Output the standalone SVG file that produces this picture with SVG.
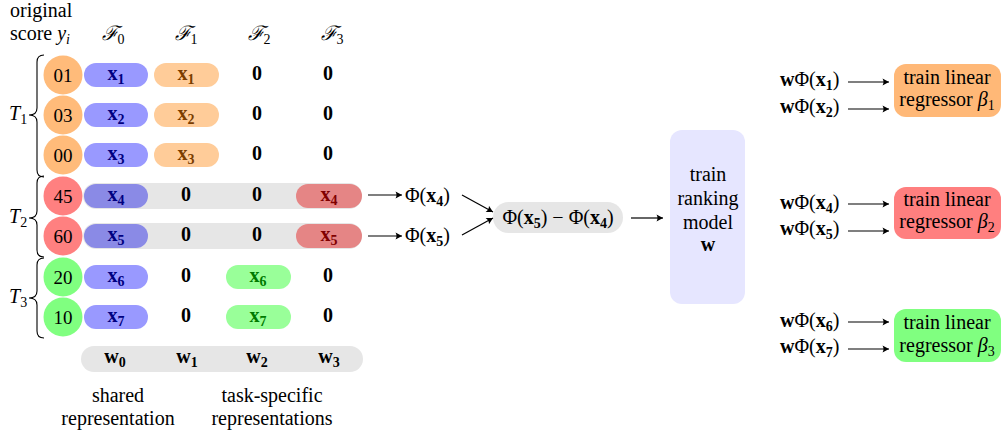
<svg xmlns="http://www.w3.org/2000/svg" width="1002" height="434" viewBox="0 0 1002 434">
<style>
text{font-family:'Liberation Serif','DejaVu Serif',serif;font-size:20px;fill:#000}
.c{text-anchor:middle}
.b{font-weight:bold}
.i{font-style:italic}
.d{font-size:19px}
.sub{font-size:14px}
.bl{fill:#000080}.or{fill:#7a3d00}.gr{fill:#007a00}.rd{fill:#800000}
.conn{stroke:#000;stroke-width:1.2;fill:none}
.brace{stroke:#000;stroke-width:1.1;fill:none}
</style>
<defs>
<marker id="arr" viewBox="-7 -4 8 8" refX="0" refY="0" markerWidth="8" markerHeight="8" orient="auto" markerUnits="userSpaceOnUse">
<path d="M-6.5,-3.5 L0,0 L-6.5,3.5 Q-4.5,0 -6.5,-3.5 Z" fill="#000"/>
</marker>
</defs>

<g id="headers">
<text x="10" y="17">original</text>
<text x="10" y="40">score <tspan class="i">y</tspan><tspan class="sub i" dy="4">i</tspan></text>
<text class="c" x="113" y="40"><tspan class="i">ℱ</tspan><tspan class="sub" dy="4">0</tspan></text>
<text class="c" x="186" y="40"><tspan class="i">ℱ</tspan><tspan class="sub" dy="4">1</tspan></text>
<text class="c" x="259" y="40"><tspan class="i">ℱ</tspan><tspan class="sub" dy="4">2</tspan></text>
<text class="c" x="332" y="40"><tspan class="i">ℱ</tspan><tspan class="sub" dy="4">3</tspan></text>
</g>

<g id="tasks">
<path class="brace" d="M44,55 Q37,55 37,62 L37,108 Q37,115 29,115 Q37,115 37,122 L37,170 Q37,177 44,177"/>
<text x="9" y="120"><tspan class="i">T</tspan><tspan class="sub" dy="4">1</tspan></text>
<path class="brace" d="M44,176 Q37,176 37,183 L37,211 Q37,218 29,218 Q37,218 37,225 L37,250 Q37,257 44,257"/>
<text x="9" y="223"><tspan class="i">T</tspan><tspan class="sub" dy="4">2</tspan></text>
<path class="brace" d="M44,258 Q37,258 37,265 L37,291 Q37,298 29,298 Q37,298 37,305 L37,331 Q37,338 44,338"/>
<text x="9" y="303"><tspan class="i">T</tspan><tspan class="sub" dy="4">3</tspan></text>
</g>

<g id="bands">
<rect x="83" y="183" width="279" height="26" rx="13" fill="#e6e6e6"/>
<rect x="83" y="223" width="279" height="26" rx="13" fill="#e6e6e6"/>
</g>

<g id="scores">
<circle cx="63" cy="75" r="19.5" fill="#ffbb7a"/><text class="c d" x="63" y="81.5">01</text>
<circle cx="63" cy="115" r="19.5" fill="#ffbb7a"/><text class="c d" x="63" y="121.5">03</text>
<circle cx="63" cy="155" r="19.5" fill="#ffbb7a"/><text class="c d" x="63" y="161.5">00</text>
<circle cx="63" cy="196" r="19.5" fill="#ff8080"/><text class="c d" x="63" y="202.5">45</text>
<circle cx="63" cy="236" r="19.5" fill="#ff8080"/><text class="c d" x="63" y="242.5">60</text>
<circle cx="63" cy="277" r="19.5" fill="#80ff80"/><text class="c d" x="63" y="283.5">20</text>
<circle cx="63" cy="317" r="19.5" fill="#80ff80"/><text class="c d" x="63" y="323.5">10</text>
</g>

<g id="F0">
<rect x="84" y="63" width="64" height="24" rx="12" fill="#9999ff"/><text class="c b bl" x="116" y="80">x<tspan class="sub" dy="4">1</tspan></text>
<rect x="84" y="103" width="64" height="24" rx="12" fill="#9999ff"/><text class="c b bl" x="116" y="120">x<tspan class="sub" dy="4">2</tspan></text>
<rect x="84" y="143" width="64" height="24" rx="12" fill="#9999ff"/><text class="c b bl" x="116" y="160">x<tspan class="sub" dy="4">3</tspan></text>
<rect x="84" y="184" width="64" height="24" rx="12" fill="#8a8ae6"/><text class="c b bl" x="116" y="201">x<tspan class="sub" dy="4">4</tspan></text>
<rect x="84" y="224" width="64" height="24" rx="12" fill="#8a8ae6"/><text class="c b bl" x="116" y="241">x<tspan class="sub" dy="4">5</tspan></text>
<rect x="84" y="265" width="64" height="24" rx="12" fill="#9999ff"/><text class="c b bl" x="116" y="282">x<tspan class="sub" dy="4">6</tspan></text>
<rect x="84" y="305" width="64" height="24" rx="12" fill="#9999ff"/><text class="c b bl" x="116" y="322">x<tspan class="sub" dy="4">7</tspan></text>
</g>

<g id="F1">
<rect x="154" y="63" width="65" height="24" rx="12" fill="#ffcc99"/><text class="c b or" x="186" y="80">x<tspan class="sub" dy="4">1</tspan></text>
<rect x="154" y="103" width="65" height="24" rx="12" fill="#ffcc99"/><text class="c b or" x="186" y="120">x<tspan class="sub" dy="4">2</tspan></text>
<rect x="154" y="143" width="65" height="24" rx="12" fill="#ffcc99"/><text class="c b or" x="186" y="160">x<tspan class="sub" dy="4">3</tspan></text>
<text class="c b" x="186" y="201">0</text>
<text class="c b" x="186" y="241">0</text>
<text class="c b" x="186" y="282">0</text>
<text class="c b" x="186" y="322">0</text>
</g>

<g id="F2">
<text class="c b" x="257" y="80">0</text>
<text class="c b" x="257" y="120">0</text>
<text class="c b" x="257" y="160">0</text>
<text class="c b" x="257" y="201">0</text>
<text class="c b" x="257" y="241">0</text>
<rect x="226" y="265" width="65" height="24" rx="12" fill="#99ff99"/><text class="c b gr" x="258" y="282">x<tspan class="sub" dy="4">6</tspan></text>
<rect x="226" y="305" width="65" height="24" rx="12" fill="#99ff99"/><text class="c b gr" x="258" y="322">x<tspan class="sub" dy="4">7</tspan></text>
</g>

<g id="F3">
<text class="c b" x="328" y="80">0</text>
<text class="c b" x="328" y="120">0</text>
<text class="c b" x="328" y="160">0</text>
<rect x="296" y="184" width="66" height="24" rx="12" fill="#e58585"/><text class="c b rd" x="329" y="201">x<tspan class="sub" dy="4">4</tspan></text>
<rect x="296" y="224" width="66" height="24" rx="12" fill="#e58585"/><text class="c b rd" x="329" y="241">x<tspan class="sub" dy="4">5</tspan></text>
<text class="c b" x="328" y="282">0</text>
<text class="c b" x="328" y="322">0</text>
</g>

<g id="weights">
<rect x="81" y="346" width="282" height="26" rx="13" fill="#e6e6e6"/>
<text class="c b" x="115" y="363">w<tspan class="sub" dy="4">0</tspan></text>
<text class="c b" x="187" y="363">w<tspan class="sub" dy="4">1</tspan></text>
<text class="c b" x="257" y="363">w<tspan class="sub" dy="4">2</tspan></text>
<text class="c b" x="329" y="363">w<tspan class="sub" dy="4">3</tspan></text>
</g>

<g id="captions">
<text class="c" x="118" y="402">shared</text>
<text class="c" x="118" y="425">representation</text>
<text class="c" x="272" y="402">task-specific</text>
<text class="c" x="272" y="425">representations</text>
</g>

<g id="phi4"><text x="405" y="202">Φ(<tspan class="b">x</tspan><tspan class="sub b" dy="4">4</tspan><tspan dy="-4">)</tspan></text></g>
<g id="phi5"><text x="405" y="242">Φ(<tspan class="b">x</tspan><tspan class="sub b" dy="4">5</tspan><tspan dy="-4">)</tspan></text></g>

<g id="diff">
<rect x="493" y="202" width="130" height="31" rx="15.5" fill="#e6e6e6"/>
<text class="c" x="558" y="224">Φ(<tspan class="b">x</tspan><tspan class="sub b" dy="4">5</tspan><tspan dy="-4">) − Φ(</tspan><tspan class="b">x</tspan><tspan class="sub b" dy="4">4</tspan><tspan dy="-4">)</tspan></text>
</g>

<g id="ranking">
<rect x="670" y="130" width="75" height="174" rx="12" fill="#e6e6ff"/>
<text class="c" x="708" y="181">train</text>
<text class="c" x="708" y="205">ranking</text>
<text class="c" x="708" y="229">model</text>
<text class="c b" x="708" y="251">w</text>
</g>

<g id="wphi">
<text x="780" y="86"><tspan class="b">w</tspan>Φ(<tspan class="b">x</tspan><tspan class="sub b" dy="4">1</tspan><tspan dy="-4">)</tspan></text>
<text x="780" y="113"><tspan class="b">w</tspan>Φ(<tspan class="b">x</tspan><tspan class="sub b" dy="4">2</tspan><tspan dy="-4">)</tspan></text>
<text x="780" y="209"><tspan class="b">w</tspan>Φ(<tspan class="b">x</tspan><tspan class="sub b" dy="4">4</tspan><tspan dy="-4">)</tspan></text>
<text x="780" y="235"><tspan class="b">w</tspan>Φ(<tspan class="b">x</tspan><tspan class="sub b" dy="4">5</tspan><tspan dy="-4">)</tspan></text>
<text x="780" y="327"><tspan class="b">w</tspan>Φ(<tspan class="b">x</tspan><tspan class="sub b" dy="4">6</tspan><tspan dy="-4">)</tspan></text>
<text x="780" y="353"><tspan class="b">w</tspan>Φ(<tspan class="b">x</tspan><tspan class="sub b" dy="4">7</tspan><tspan dy="-4">)</tspan></text>
</g>

<g id="reg1">
<rect x="894" y="64" width="107" height="53" rx="12" fill="#ffb877"/>
<text class="c" x="947" y="84">train linear</text>
<text class="c" x="947" y="106">regressor <tspan class="i">β</tspan><tspan class="sub" dy="4">1</tspan></text>
</g>
<g id="reg2">
<rect x="894" y="187" width="107" height="52" rx="12" fill="#ff7f7f"/>
<text class="c" x="947" y="206">train linear</text>
<text class="c" x="947" y="228">regressor <tspan class="i">β</tspan><tspan class="sub" dy="4">2</tspan></text>
</g>
<g id="reg3">
<rect x="894" y="309" width="107" height="53" rx="12" fill="#80ff80"/>
<text class="c" x="947" y="329">train linear</text>
<text class="c" x="947" y="352">regressor <tspan class="i">β</tspan><tspan class="sub" dy="4">3</tspan></text>
</g>

<g id="connectors">
<line class="conn" x1="368" y1="195" x2="402" y2="195" marker-end="url(#arr)"/>
<line class="conn" x1="368" y1="236" x2="402" y2="236" marker-end="url(#arr)"/>
<line class="conn" x1="462" y1="195" x2="493" y2="212" marker-end="url(#arr)"/>
<line class="conn" x1="462" y1="235" x2="493" y2="218" marker-end="url(#arr)"/>
<line class="conn" x1="631" y1="218" x2="663" y2="218" marker-end="url(#arr)"/>
<line class="conn" x1="848" y1="82" x2="889" y2="82" marker-end="url(#arr)"/>
<line class="conn" x1="848" y1="109" x2="889" y2="109" marker-end="url(#arr)"/>
<line class="conn" x1="848" y1="204" x2="889" y2="204" marker-end="url(#arr)"/>
<line class="conn" x1="848" y1="231" x2="889" y2="231" marker-end="url(#arr)"/>
<line class="conn" x1="848" y1="322" x2="889" y2="322" marker-end="url(#arr)"/>
<line class="conn" x1="848" y1="349" x2="889" y2="349" marker-end="url(#arr)"/>
</g>
</svg>
